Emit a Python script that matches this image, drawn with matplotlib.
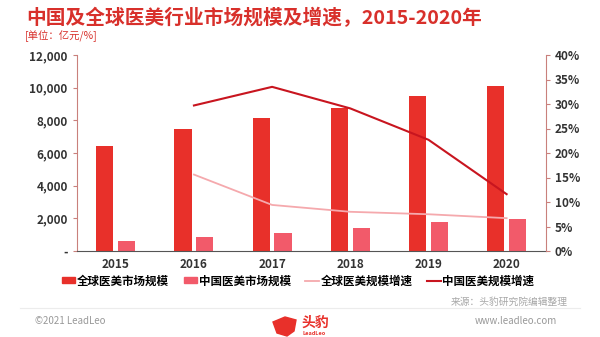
import matplotlib
matplotlib.use("Agg")
import matplotlib.pyplot as plt
import numpy as np
from matplotlib.lines import Line2D
from matplotlib.patches import Patch, Polygon

plt.rcParams['font.family'] = ['Noto Sans CJK SC', 'DejaVu Sans']

years = ["2015", "2016", "2017", "2018", "2019", "2020"]
global_market = [6430, 7450, 8130, 8780, 9470, 10100]
china_market = [610, 840, 1120, 1430, 1775, 1940]
global_growth = [None, 15.6, 9.4, 8.0, 7.5, 6.7]
china_growth = [None, 29.7, 33.5, 29.1, 22.7, 11.6]
left_ticks = [0, 2000, 4000, 6000, 8000, 10000, 12000]
left_labels = ["-", "2,000", "4,000", "6,000", "8,000", "10,000", "12,000"]
right_ticks = [0, 5, 10, 15, 20, 25, 30, 35, 40]
right_labels = ["0%", "5%", "10%", "15%", "20%", "25%", "30%", "35%", "40%"]
legend_labels = ["全球医美市场规模", "中国医美市场规模", "全球医美规模增速", "中国医美规模增速"]

c_global = "#e8302a"
c_china = "#f25a6a"
c_ggrowth = "#f5a9ad"
c_cgrowth = "#c8151f"
spine_c = "#c9807c"

W, H = 600, 337
fig = plt.figure(figsize=(6, 3.37), dpi=100)
ax = fig.add_axes([76.7 / W, 1 - 251 / H, (545.7 - 76.7) / W, (251 - 55) / H])
ax2 = ax.twinx()

x = np.arange(len(years))
bw = 0.22
ax.bar(x - 0.14, global_market, width=bw, color=c_global, zorder=2)
ax.bar(x + 0.14, china_market, width=bw, color=c_china, zorder=2)
ax.set_xlim(-0.5, len(years) - 0.5)
ax.set_ylim(0, 12000)
ax.set_yticks(left_ticks)
ax.set_yticklabels(left_labels)
ax.set_xticks(x)
ax.set_xticklabels(years)

gx = [i for i, v in enumerate(global_growth) if v is not None]
gy = [v for v in global_growth if v is not None]
cx = [i for i, v in enumerate(china_growth) if v is not None]
cy = [v for v in china_growth if v is not None]
ax2.plot(gx, gy, color=c_ggrowth, lw=1.3, zorder=3)
ax2.plot(cx, cy, color=c_cgrowth, lw=1.5, zorder=3)
ax2.set_ylim(0, 40)
ax2.set_yticks(right_ticks)
ax2.set_yticklabels(right_labels)

for a in (ax, ax2):
    a.spines['top'].set_visible(False)
    a.patch.set_visible(False)
ax.spines['right'].set_visible(False)
ax.spines['left'].set_color(spine_c)
ax.spines['bottom'].set_color("#555555")
ax2.spines['left'].set_visible(False)
ax2.spines['bottom'].set_visible(False)
ax2.spines['right'].set_color(spine_c)
ax.tick_params(axis='y', colors=spine_c, length=3, labelcolor="#333333", labelsize=8.5)
ax.tick_params(axis='x', length=0, labelcolor="#333333", labelsize=8.5, pad=5)
ax2.tick_params(axis='y', colors=spine_c, length=3, labelcolor="#333333", labelsize=8.5)
for lab in ax.get_xticklabels() + ax.get_yticklabels() + ax2.get_yticklabels():
    lab.set_fontweight('bold')

handles = [Patch(color=c_global), Patch(color=c_china),
           Line2D([], [], color=c_ggrowth, lw=1.3), Line2D([], [], color=c_cgrowth, lw=1.5)]
fig.legend(handles, legend_labels, loc='center', bbox_to_anchor=(298 / W, 1 - 281 / H),
           ncol=4, frameon=False, handlelength=1.2, handleheight=0.45,
           handletextpad=0.1, columnspacing=1.3, prop={'weight': 'bold', 'size': 8.3})

fig.text(26 / W, 1 - 24.5 / H, "中国及全球医美行业市场规模及增速，2015-2020年",
         fontsize=14.2, fontweight='bold', color="#d8302b", va='baseline', ha='left')
fig.text(25 / W, 1 - 39 / H, "[单位：亿元/%]", fontsize=7.5, color="#d8302b",
         va='baseline', ha='left')

fig.text(568 / W, 1 - 302 / H, "来源：头豹研究院编辑整理", fontsize=7, color="#a8a8a8",
         style='italic', ha='right', va='center')
fig.add_artist(Line2D([20 / W, 580 / W], [1 - 308 / H, 1 - 308 / H], color="#ececec", lw=0.8))
fig.text(35 / W, 1 - 321 / H, "©2021 LeadLeo", fontsize=7, color="#999999", ha='left', va='center')
fig.text(557 / W, 1 - 321 / H, "www.leadleo.com", fontsize=7, color="#999999", ha='right', va='center')
# logo
icon = Polygon([[273 / W, 1 - 322 / H], [285 / W, 1 - 317 / H], [296 / W, 1 - 320 / H],
                [294 / W, 1 - 331 / H], [287 / W, 1 - 336 / H], [277 / W, 1 - 333 / H]],
               closed=True, transform=fig.transFigure, color="#e8302a")
fig.add_artist(icon)
fig.text(315 / W, 1 - 323 / H, "头豹", fontsize=10, fontweight='bold', color="#e8302a",
         ha='center', va='center')
fig.text(314 / W, 1 - 333.5 / H, "LeadLeo", fontsize=4, fontweight='bold', color="#e8302a",
         ha='center', va='center')

fig.savefig("out.png", dpi=100)
